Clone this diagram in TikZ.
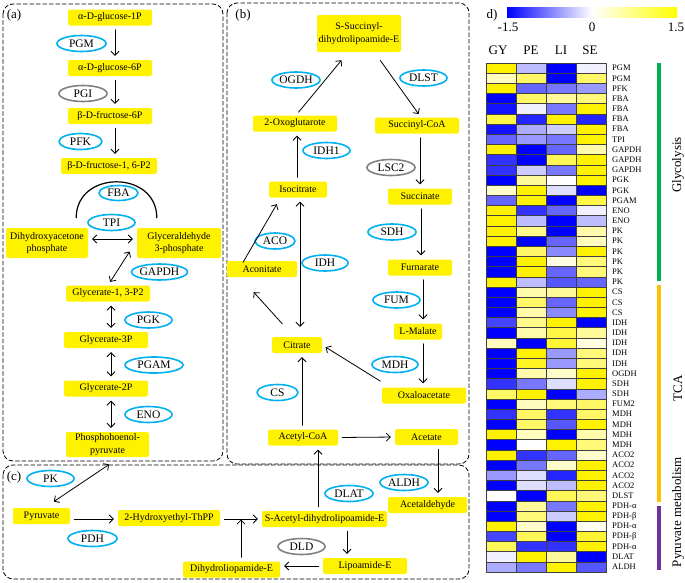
\documentclass[tikz,border=0pt]{standalone}
\usepackage{fontspec}
\setmainfont{Liberation Serif}
\usetikzlibrary{shapes.geometric,arrows.meta,calc}
\definecolor{enzblue}{RGB}{0,176,240}
\definecolor{enzgray}{RGB}{128,128,128}
\definecolor{glyc}{RGB}{0,176,80}
\definecolor{tca}{RGB}{255,192,0}
\definecolor{pyru}{RGB}{112,48,160}
\begin{document}
\begin{tikzpicture}[x=1pt,y=-1pt,>={Straight Barb[length=4pt,width=8pt]},line join=round,line cap=round,
	met/.style={fill=yellow,rounded corners=2pt,inner sep=1pt,minimum height=16pt,align=center,font=\fontsize{10}{12.7}\selectfont},
	enz/.style={ellipse,draw=enzblue,line width=1.6pt,fill=white,inner sep=0pt,minimum height=16pt,font=\fontsize{11.5}{12}\selectfont},
	enzg/.style={enz,draw=enzgray},
	rx/.style={->,line width=0.8pt,shorten <=4pt,shorten >=4pt},
	panel/.style={line width=0.8pt,dash pattern=on 4pt off 2.5pt,rounded corners=10pt},
	lbl/.style={font=\fontsize{13}{14}\selectfont,inner sep=0pt},
	cell/.style={draw=black!75,line width=0.5pt},
	glab/.style={anchor=west,inner sep=0pt,font=\fontsize{8.5}{9}\selectfont}]
	\useasboundingbox (0,0) rectangle (685,582);
	\draw[panel] (3,4) rectangle (223,461);
	\draw[panel] (227,3) rectangle (469,464);
	\draw[panel] (3,465) rectangle (469,579);
	\node[lbl] (la) at (14,15) {(a)};
	\node[lbl] (lb) at (243,15) {(b)};
	\node[lbl] (lc) at (14,477) {(c)};
	\node[lbl] (ld) at (492,15) {d)};
	% (a) glycolysis
	\node[met,minimum width=84pt] (g1p) at (110,17.5) {α-D-glucose-1P};
	\node[met,minimum width=84pt] (g6p) at (110,68) {α-D-glucose-6P};
	\node[met,minimum width=84pt] (f6p) at (110,116) {β-D-fructose-6P};
	\node[met,minimum width=96pt] (f16) at (109,166) {β-D-fructose-1, 6-P2};
	\node[met,minimum width=82pt,minimum height=30pt] (dha) at (47,243) {Dihydroxyacetone\\phosphate};
	\node[met,minimum width=84pt,minimum height=30pt] (g3p) at (179,243) {Glyceraldehyde\\3-phosphate};
	\node[met,minimum width=84pt] (g13) at (108,293.5) {Glycerate-1, 3-P2};
	\node[met,minimum width=84pt] (g3) at (106,340) {Glycerate-3P};
	\node[met,minimum width=84pt] (g2) at (106,388.5) {Glycerate-2P};
	\node[met,minimum width=83pt,minimum height=25pt] (pep) at (107.5,444.5) {Phosphohoenol-\\pyruvate};
	\draw[line width=1.2pt] ([xshift=-12pt,yshift=10pt]dha.north east) .. controls +(0,-48) and +(0,-48) .. ([xshift=20pt,yshift=10pt]g3p.north west);
	\node[enz,minimum width=49pt] (pgm) at (81.5,43.5) {PGM};
	\node[enzg,minimum width=48pt] (pgi) at (83,93.5) {PGI};
	\node[enz,minimum width=43pt] (pfk) at (80.5,141.5) {PFK};
	\node[enz,minimum width=39pt,minimum height=15pt] (fba) at (118.5,193) {FBA};
	\node[enz,minimum width=47pt] (tpi) at (111.5,222.5) {TPI};
	\node[enz,minimum width=53pt] (gapdh) at (159.5,272) {GAPDH};
	\node[enz,minimum width=47pt] (pgk) at (148.5,320) {PGK};
	\node[enz,minimum width=58pt] (pgam) at (154,365) {PGAM};
	\node[enz,minimum width=47pt] (eno) at (148.5,414.5) {ENO};
	\draw[rx] ([xshift=5pt]g1p.south) -- ([xshift=5pt]g6p.north);
	\draw[rx] ([xshift=5pt]g6p.south) -- ([xshift=5pt]f6p.north);
	\draw[rx] ([xshift=5pt]f6p.south) -- ([xshift=5pt]f6p.south |- f16.north);
	\draw[rx,<->] ([yshift=4pt]dha.east) -- ([yshift=4pt]g3p.west);
	\draw[rx,<->] (g13.north) -- ([xshift=-5pt,yshift=10pt]g3p.south west);
	\draw[rx,<->] ([xshift=3pt]g13.south) -- ([xshift=3pt]g13.south |- g3.north);
	\draw[rx,<->] ([xshift=5pt]g3.south) -- ([xshift=5pt]g2.north);
	\draw[rx,<->] ([xshift=5pt]g2.south) -- ([xshift=5pt]g2.south |- pep.north);
	% (b) TCA cycle
	\node[met,minimum width=84pt,minimum height=37pt] (sse) at (359,33.5) {S-Succinyl-\\dihydrolipoamide-E};
	\node[met,minimum width=84pt] (oxo) at (295,123.5) {2-Oxoglutarote};
	\node[met,minimum width=84pt] (sca) at (417,125.5) {Succinyl-CoA};
	\node[met,minimum width=58pt] (iso) at (298,189.5) {Isocitrate};
	\node[met,minimum width=64pt] (suc) at (420,196.5) {Succinate};
	\node[met,minimum width=70pt] (acn) at (262,269) {Aconitate};
	\node[met,minimum width=64pt] (fur) at (420,267.5) {Furnarate};
	\node[met,minimum width=48pt] (mal) at (418,331.5) {L-Malate};
	\node[met,minimum width=50pt] (cit) at (297,345) {Citrate};
	\node[met,minimum width=84pt] (oaa) at (424,395.5) {Oxaloacetate};
	\node[met,minimum width=70pt] (acoa) at (303,437.5) {Acetyl-CoA};
	\node[met,minimum width=63pt] (act) at (426.5,437) {Acetate};
	\node[enz,minimum width=48pt] (ogdh) at (296,80) {OGDH};
	\node[enz,minimum width=47pt] (dlst) at (423.5,78) {DLST};
	\node[enz,minimum width=47pt] (idhone) at (326.5,150.5) {IDH1};
	\node[enzg,minimum width=48pt] (lsc) at (391,167.5) {LSC2};
	\node[enz,minimum width=40pt] (aco) at (275,241) {ACO};
	\node[enz,minimum width=48pt] (sdh) at (392,232) {SDH};
	\node[enz,minimum width=46pt] (idh) at (325,263) {IDH};
	\node[enz,minimum width=47pt] (fum) at (396.5,300) {FUM};
	\node[enz,minimum width=46pt] (mdh) at (395,364.5) {MDH};
	\node[enz,minimum width=41pt] (cs) at (277.5,392.5) {CS};
	\draw[rx] ([xshift=1pt]oxo.north) -- ([xshift=-15pt,yshift=-5pt]sse.south);
	\draw[rx] ([xshift=19pt,yshift=-5pt]sse.south) -- ([xshift=4pt]sca.north);
	\draw[rx] ([xshift=-1pt]iso.north) -- ([xshift=2pt]oxo.south);
	\draw[rx] ([xshift=3pt]sca.south) -- (suc.north);
	\draw[rx] ([xshift=-21pt,yshift=-5pt]acn.north) -- ([xshift=10pt,yshift=-3pt]iso.south west);
	\draw[rx,<->] ([xshift=3pt,yshift=6pt]cit.north) -- ([xshift=2pt]iso.south);
	\draw[rx] ([xshift=1pt]suc.south) -- ([xshift=1pt]fur.north);
	\draw[rx] ([xshift=-12pt,yshift=10pt]cit.north) -- ([xshift=-11pt,yshift=-12pt]acn.south);
	\draw[rx] ([xshift=3pt]fur.south) -- ([xshift=5pt]mal.north);
	\draw[rx] ([xshift=5pt]mal.south) -- ([xshift=-1pt]oaa.north);
	\draw[rx] ([xshift=2pt,yshift=4pt]oaa.north west) -- (cit.east);
	\draw[rx] ([xshift=-1pt]acoa.north) -- ([xshift=5pt]cit.south);
	\draw[rx] (acoa.east) -- (act.west);
	% (c) pyruvate metabolism
	\node[enz,minimum width=47pt] (pk) at (50.5,478.5) {PK};
	\node[met,minimum width=57pt] (pyr) at (41.5,516) {Pyruvate};
	\node[met,minimum width=102pt] (hyd) at (169,518) {2-Hydroxyethyl-ThPP};
	\node[enz,minimum width=49pt] (pdh) at (92.5,538.5) {PDH};
	\node[met,minimum width=125pt] (sad) at (324.5,519) {S-Acetyl-dihydrolipoamide-E};
	\node[enz,minimum width=48pt] (dlat) at (349,493.5) {DLAT};
	\node[enz,minimum width=48pt] (aldh) at (404,482.5) {ALDH};
	\node[met,minimum width=79pt] (ald) at (427.5,505) {Acetaldehyde};
	\node[enzg,minimum width=47pt] (dld) at (301.5,546.5) {DLD};
	\node[met,minimum width=84pt] (lip) at (365,566) {Lipoamide-E};
	\node[met,minimum width=97pt] (dhl) at (231.5,569.5) {Dihydroliopamide-E};
	\coordinate (jn) at ($(hyd.east)!0.5!(sad.west)$);
	\draw[rx,<->] ([xshift=5pt,yshift=-5pt]pep.south) -- ([xshift=9pt,yshift=4pt]pyr.north);
	\draw[rx] ([yshift=-3pt]pyr.east) -- ([yshift=-1pt]hyd.west);
	\draw[rx] ([yshift=-1pt]hyd.east) -- (sad.west);
	\draw[rx] ([xshift=-6.5pt]sad.north) -- ([xshift=15pt]acoa.south);
	\draw[rx] ([xshift=11.5pt]act.south) -- ([xshift=10.5pt]ald.north);
	\draw[rx] ([xshift=22.5pt]sad.south) -- ([xshift=-18pt]lip.north);
	\draw[rx] (lip.west) -- (dhl.east |- lip.west);
	\draw[rx,shorten >=1pt] (dhl.north -| jn) -- (jn);
	% (d) heat map
	\shade[left color=blue,right color=yellow,middle color=white] (507,7) rectangle (677,17);
	\node[lbl] (cmin) at (508,27) {-1.5};
	\node[lbl] (cmid) at (592,27) {0};
	\node[lbl] (cmax) at (676,27) {1.5};
	\foreach \hd/\hx [count=\k] in {GY/498,PE/531,LI/561,SE/590}
		\node[lbl] (h\k) at (\hx,50) {\hd};
	\foreach \lab/\va/\vb/\vc/\vd [count=\i] in {
		PGM/15/-4/-15/-1, PGM/4/9/-15/9, PFK/15/-9/-8/-6, FBA/-15/9/6/8, FBA/-14/-1/-8/15,
		FBA/11/-13/15/-13, FBA/-14/-5/-3/15, TPI/-9/-6/-8/15, GAPDH/15/-15/-9/5, GAPDH/-12/-15/10/15,
		GAPDH/-12/-3/-8/15, PGK/-15/6/0/15, PGK/3/15/-2/-15, PGAM/-9/15/-15/11, ENO/15/-12/-9/-1,
		ENO/15/-4/-15/-4, PK/15/7/-15/5, PK/15/-15/-9/4, PK/-15/9/-7/15, PK/-15/15/2/8,
		PK/-15/15/-9/8, PK/15/-4/-10/-9, CS/-15/5/6/15, CS/-15/9/-9/15, CS/-15/5/-7/15,
		IDH/-11/7/15/-15, IDH/-15/5/11/6, IDH/4/-15/12/2, IDH/-15/15/-6/8, IDH/-15/13/-6/8,
		OGDH/-15/5/3/15, SDH/-12/-8/-2/15, SDH/9/15/-15/-5, FUM2/-15/4/8/9, MDH/-12/9/-12/9,
		MDH/-15/9/-10/15, MDH/15/4/-15/5, MDH/-15/0/15/8, ACO2/15/-12/-9/3, ACO2/-15/-8/3/15,
		ACO2/-6/-2/-13/15, ACO2/-15/-2/-4/15, DLST/0/-15/10/8, PDH-α/-15/6/-8/15, PDH-β/-15/8/-3/15,
		PDH-α/15/3/-15/1, PDH-β/-11/10/-15/12, PDH-α/10/-12/-12/15, DLAT/-1/15/6/-15, ALDH/-5/-8/15/-10}{
		\foreach \v [count=\j] in {\va,\vb,\vc,\vd}{
			\pgfmathtruncatemacro\p{abs(\v)*100/15}
			\ifnum\v<0 \def\hue{blue}\else\def\hue{yellow}\fi
			\draw[cell,fill=\hue!\p!white] (456+30*\j,52.82+10.18*\i) rectangle ++(30,10.18);
		}
		\node[glab] (r\i) at (612,57.91+10.18*\i) {\lab};
	}
	\fill[glyc] (657,63) rectangle (661,281);
	\fill[tca] (657,285) rectangle (661,502);
	\fill[pyru] (657,506) rectangle (661,570);
	\node[lbl,rotate=90] (tg) at (678,165) {Glycolysis};
	\node[lbl,rotate=90] (tt) at (678,388) {TCA};
	\node[lbl,rotate=90] (tp) at (678,512) {Pyruvate metabolism};
\end{tikzpicture}
\end{document}
